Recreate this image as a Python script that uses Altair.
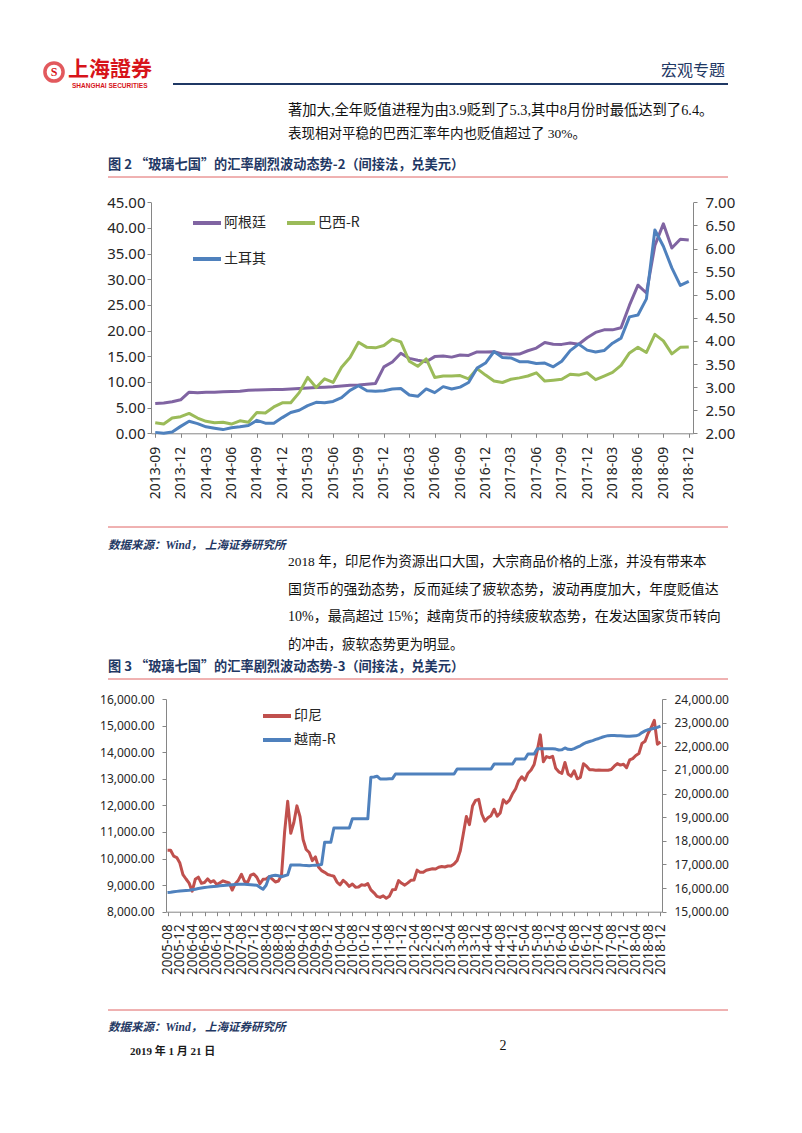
import altair as alt
import pandas as pd

W, H = 786, 1117
OX, OY = 8, 8

BODY = "Liberation Serif, Noto Sans CJK SC"
CJK = "Noto Sans CJK SC"
AXF = "Noto Sans"
NAVY = "#1F3864"
REDL = "#E06464"
AXC = "#868686"
LBL = "#262626"
PURPLE, GREEN, BLUE, RED = "#8064A2", "#9BBB59", "#4F81BD", "#C0504D"

# ---------------- chart 2 data ----------------
months2 = pd.period_range("2013-09", "2018-12", freq="M").strftime("%Y-%m").tolist()
labels2 = months2[::3]
ars = [5.79, 5.91, 6.13, 6.52,
       8.02, 7.88, 8.00, 8.00, 8.08, 8.13, 8.20, 8.40, 8.43, 8.50, 8.53, 8.55,
       8.64, 8.72, 8.82, 8.90, 8.99, 9.09, 9.23, 9.36, 9.42, 9.55, 9.71, 12.94,
       13.90, 15.59, 14.60, 14.23, 13.95, 14.94, 15.04, 14.84, 15.24, 15.16, 15.84, 15.85,
       15.90, 15.48, 15.38, 15.44, 16.08, 16.60, 17.70, 17.36, 17.32, 17.60, 17.35, 18.60,
       19.65, 20.15, 20.15, 20.56, 24.96, 28.85, 27.33, 36.60, 40.80, 36.10, 37.80, 37.65]
brl = [2.23, 2.20, 2.33, 2.36,
       2.43, 2.33, 2.26, 2.23, 2.24, 2.20, 2.27, 2.24, 2.45, 2.44, 2.57, 2.66,
       2.66, 2.88, 3.21, 2.99, 3.18, 3.10, 3.43, 3.64, 3.97, 3.86, 3.85, 3.90,
       4.04, 3.98, 3.56, 3.45, 3.61, 3.21, 3.24, 3.24, 3.25, 3.18, 3.40, 3.26,
       3.13, 3.10, 3.17, 3.20, 3.24, 3.31, 3.13, 3.15, 3.17, 3.28, 3.26, 3.31,
       3.16, 3.24, 3.32, 3.47, 3.74, 3.86, 3.75, 4.14, 4.00, 3.72, 3.86, 3.87]
tryl = [2.02, 2.00, 2.03, 2.15,
        2.26, 2.21, 2.14, 2.11, 2.08, 2.12, 2.14, 2.17, 2.28, 2.22, 2.22, 2.34,
        2.45, 2.50, 2.60, 2.67, 2.66, 2.69, 2.77, 2.93, 3.03, 2.92, 2.91, 2.92,
        2.96, 2.97, 2.83, 2.80, 2.96, 2.88, 3.01, 2.96, 3.00, 3.10, 3.41, 3.52,
        3.77, 3.64, 3.63, 3.55, 3.55, 3.51, 3.52, 3.44, 3.56, 3.79, 3.93, 3.80,
        3.76, 3.79, 3.95, 4.06, 4.52, 4.56, 4.91, 6.40, 6.05, 5.58, 5.20, 5.29]
series2 = ["阿根廷", "巴西-R", "土耳其"]

# ---------------- chart 3 data ----------------
months3 = pd.period_range("2005-08", "2018-12", freq="M").strftime("%Y-%m").tolist()
labels3 = months3[::4]
idr = [10310, 10310, 10090, 10035, 9830,
       9395, 9230, 9075, 8775, 9220, 9300, 9070, 9100, 9235, 9110, 9165, 9020,
       9090, 9160, 9118, 9083, 8815, 9054, 9186, 9410, 9137, 9103, 9376, 9419,
       9291, 9051, 9217, 9234, 9318, 9225, 9118, 9153, 9378, 10995, 12151, 10950,
       11355, 11980, 11575, 10713, 10340, 10225, 9920, 10060, 9681, 9545, 9480, 9400,
       9365, 9335, 9115, 9012, 9180, 9083, 8952, 9041, 8924, 8928, 9013, 8991,
       9057, 8823, 8709, 8574, 8537, 8597, 8508, 8578, 8823, 8835, 9170, 9068,
       9000, 9085, 9180, 9190, 9565, 9480, 9485, 9560, 9588, 9615, 9605, 9670,
       9698, 9680, 9719, 9722, 9793, 9929, 10278, 10924, 11580, 11275, 11977, 12189,
       12226, 11675, 11404, 11532, 11611, 11855, 11591, 11717, 12212, 12082, 12196, 12440,
       12625, 12932, 13075, 12948, 13210, 13332, 13535, 14050, 14650, 13639, 13835, 13795,
       13846, 13395, 13260, 13204, 13615, 13180, 13094, 13300, 12998, 13051, 13563, 13473,
       13343, 13340, 13321, 13327, 13321, 13319, 13323, 13351, 13471, 13572, 13514, 13548,
       13413, 13707, 13756, 13877, 13951, 14330, 14413, 14711, 14929, 15200, 14302, 14380]
vnd = [15810, 15820, 15840, 15860, 15880,
       15890, 15900, 15910, 15930, 15950, 15980, 16000, 16020, 16040, 16060, 16070, 16080,
       16100, 16110, 16120, 16130, 16140, 16150, 16160, 16160, 16160, 16150, 16140, 16130,
       16120, 16030, 15950, 16120, 16480, 16520, 16540, 16520, 16480, 16520, 16560, 16980,
       16975, 16975, 16975, 16960, 16950, 16940, 16960, 16970, 16980, 17000, 17941, 17941,
       17941, 18544, 18544, 18544, 18544, 18544, 18544, 18932, 18932, 18932, 18932, 18932,
       18932, 20693, 20703, 20733, 20618, 20618, 20618, 20628, 20628, 20828, 20828, 20828,
       20828, 20828, 20828, 20828, 20828, 20828, 20828, 20828, 20828, 20828, 20828, 20828,
       20828, 20828, 20828, 20828, 20828, 21036, 21036, 21036, 21036, 21036, 21036, 21036,
       21036, 21036, 21036, 21036, 21036, 21246, 21246, 21246, 21246, 21246, 21246, 21246,
       21458, 21458, 21458, 21458, 21673, 21673, 21673, 21890, 21890, 21890, 21890, 21890,
       21890, 21880, 21840, 21850, 21930, 21870, 21860, 21900, 21960, 22020, 22100, 22160,
       22200, 22240, 22290, 22330, 22380, 22420, 22450, 22460, 22460, 22450, 22440, 22430,
       22420, 22420, 22430, 22440, 22480, 22580, 22650, 22700, 22730, 22760, 22800, 22850]
series3 = ["印尼", "越南-R"]

# ---------------- page text ----------------
para1 = ["著加大,全年贬值进程为由3.9贬到了5.3,其中8月份时最低达到了6.4。",
         "表现相对平稳的巴西汇率年内也贬值超过了 30%。"]
para2 = ["2018 年，印尼作为资源出口大国，大宗商品价格的上涨，并没有带来本",
         "国货币的强劲态势，反而延续了疲软态势，波动再度加大，年度贬值达",
         "10%，最高超过 15%；越南货币的持续疲软态势，在发达国家货币转向",
         "的冲击，疲软态势更为明显。"]
title2 = "图 2 “玻璃七国”的汇率剧烈波动态势-2（间接法，兑美元）"
title3 = "图 3 “玻璃七国”的汇率剧烈波动态势-3（间接法，兑美元）"
source = "数据来源：Wind，  上海证券研究所"


def T(text, x, y, size, font=BODY, color="#111111", weight="normal", style="normal",
      align="left", baseline="middle"):
    return alt.Chart(pd.DataFrame({"t": [text]})).mark_text(
        align=align, baseline=baseline, font=font, fontSize=size, fontWeight=weight,
        fontStyle=style, color=color
    ).encode(x=alt.value(x - OX), y=alt.value(y - OY), text="t:N")


def R(x1, x2, y, color, w):
    return alt.Chart(pd.DataFrame({"a": [0]})).mark_rule(color=color, strokeWidth=w).encode(
        x=alt.value(x1 - OX), x2=alt.value(x2 - OX), y=alt.value(y - OY))


def axis_common(**kw):
    base = dict(grid=False, title=None, domainColor=AXC, tickColor=AXC, tickSize=4,
                labelFont=AXF, labelColor=LBL, labelOverlap=False, labelFlush=False)
    base.update(kw)
    return alt.Axis(**base)


# ---------------- chart 2 ----------------
df2a = pd.DataFrame({"month": months2, "value": ars, "series": series2[0]})
df2b = pd.concat([pd.DataFrame({"month": months2, "value": brl, "series": series2[1]}),
                  pd.DataFrame({"month": months2, "value": tryl, "series": series2[2]})])

yb2, yt2 = 425.3, 194.3
x2 = alt.X("month:O",
           scale=alt.Scale(type="point", domain=months2, range=[143, 685], padding=0.5),
           axis=axis_common(orient="bottom", offset=-(H - yb2), values=labels2, labelAngle=270,
                            labelFontSize=14, labelPadding=9))
color2 = alt.Color("series:N",
                   scale=alt.Scale(domain=series2, range=[PURPLE, GREEN, BLUE]),
                   legend=alt.Legend(orient="none", legendX=183, legendY=207, columns=2,
                                     direction="horizontal",
                                     symbolType="stroke", symbolSize=784, symbolStrokeWidth=4,
                                     clipHeight=16, labelFont=CJK, labelFontSize=14,
                                     labelColor=LBL, labelOffset=1, columnPadding=19,
                                     rowPadding=20, padding=0, title=None))
c2a = alt.Chart(df2a).mark_line(strokeWidth=3, strokeJoin="round").encode(
    x=x2,
    y=alt.Y("value:Q", scale=alt.Scale(domain=[0, 45], range=[yb2, yt2], nice=False, zero=False),
            axis=axis_common(orient="left", offset=-143, values=list(range(0, 46, 5)),
                             format=".2f", labelFontSize=15, labelPadding=2)),
    color=color2)
c2b = alt.Chart(df2b).mark_line(strokeWidth=3, strokeJoin="round").encode(
    x=x2,
    y=alt.Y("value:Q", scale=alt.Scale(domain=[2, 7], range=[yb2, yt2], nice=False, zero=False),
            axis=axis_common(orient="right", offset=-(W - 685), values=[2, 2.5, 3, 3.5, 4, 4.5, 5, 5.5, 6, 6.5, 7],
                             format=".2f", labelFontSize=15, labelPadding=8)),
    color=color2)
chart2 = alt.layer(c2a, c2b).resolve_scale(y="independent")

# ---------------- chart 3 ----------------
df3a = pd.DataFrame({"month": months3, "value": idr, "series": series3[0]})
df3b = pd.DataFrame({"month": months3, "value": vnd, "series": series3[1]})
yb3, yt3 = 903.7, 691.0
x3 = alt.X("month:O",
           scale=alt.Scale(type="point", domain=months3, range=[158, 654], padding=0.5),
           axis=axis_common(orient="bottom", offset=-(H - yb3), values=labels3, labelAngle=270,
                            labelFontSize=13.5, labelPadding=8))
color3 = alt.Color("series:N",
                   scale=alt.Scale(domain=series3, range=[RED, BLUE]),
                   legend=alt.Legend(orient="none", legendX=253, legendY=700, columns=1,
                                     symbolType="stroke", symbolSize=784, symbolStrokeWidth=4,
                                     clipHeight=16, labelFont=CJK, labelFontSize=14,
                                     labelColor=LBL, labelOffset=1, rowPadding=8,
                                     padding=0, title=None))
c3a = alt.Chart(df3a).mark_line(strokeWidth=3, strokeJoin="round").encode(
    x=x3,
    y=alt.Y("value:Q", scale=alt.Scale(domain=[8000, 16000], range=[yb3, yt3], nice=False, zero=False),
            axis=axis_common(orient="left", offset=-158, values=list(range(8000, 16001, 1000)),
                             format=",.2f", labelFontSize=12, labelPadding=8)),
    color=color3)
c3b = alt.Chart(df3b).mark_line(strokeWidth=3, strokeJoin="round").encode(
    x=x3,
    y=alt.Y("value:Q", scale=alt.Scale(domain=[15000, 24000], range=[yb3, yt3], nice=False, zero=False),
            axis=axis_common(orient="right", offset=-(W - 654), values=list(range(15000, 24001, 1000)),
                             format=",.2f", labelFontSize=12, labelPadding=8)),
    color=color3)
chart3 = alt.layer(c3a, c3b).resolve_scale(y="independent")

# ---------------- page decorations ----------------
LOGO = "#D7141A"
deco = [
    alt.Chart(pd.DataFrame({"a": [0]})).mark_point(shape="circle", filled=False, size=330,
                                                   strokeWidth=3.5, color=LOGO).encode(
        x=alt.value(54 - OX), y=alt.value(72 - OY)),
    T("S", 54, 72, 12, font="Liberation Serif", color=LOGO, weight="bold", align="center"),
    T("上海證券", 68, 70, 21, font=CJK, color=LOGO, weight="bold"),
    T("SHANGHAI SECURITIES", 72, 86, 6.5, font="Liberation Sans", color=LOGO, weight="bold"),
    T("宏观专题", 725, 71, 16, font=CJK, color=NAVY, align="right"),
    R(173, 728, 84, NAVY, 2),
    T(para1[0], 288, 111, 14.3),
    T(para1[1], 288, 134, 13.5),
    T(title2, 108, 165, 13.2, font=CJK, color=NAVY, weight="bold"),
    R(108, 728, 177, REDL, 1),
    R(108, 728, 527, REDL, 1),
    T(source, 108, 546, 11.5, font=BODY, color=NAVY, weight="bold", style="italic"),
    T(para2[0], 288, 562, 13.4),
    T(para2[1], 288, 590, 13.9),
    T(para2[2], 288, 617, 14.0),
    T(para2[3], 288, 645, 13.5),
    T(title3, 108, 667, 13.2, font=CJK, color=NAVY, weight="bold"),
    R(108, 728, 679, REDL, 1),
    R(108, 728, 1010, REDL, 1),
    T(source, 108, 1028, 11.5, font=BODY, color=NAVY, weight="bold", style="italic"),
    T("2019 年 1 月 21 日", 130, 1052, 11, weight="bold", color="#1a1a1a"),
    T("2", 503, 1046, 14, align="center"),
]

chart = alt.layer(*deco, chart2, chart3).resolve_scale(
    x="independent", y="independent", color="independent"
).properties(
    width=W, height=H, padding=0, autosize=alt.AutoSizeParams(type="none"), background="white"
).configure_view(stroke=None)

chart.save("out.html", embed_options={"renderer": "svg", "actions": False})
